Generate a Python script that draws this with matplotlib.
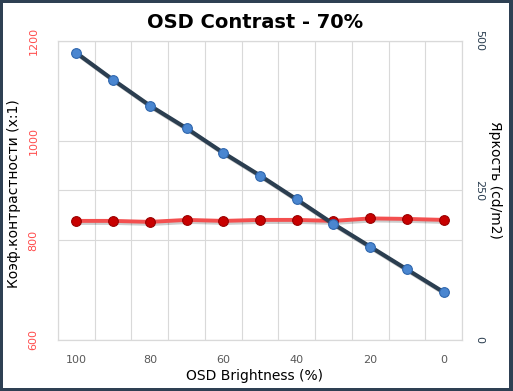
import numpy as np
import matplotlib.pyplot as plt
from matplotlib.patches import Rectangle
import matplotlib.patheffects as pe

# OSD brightness steps (x categories), contrast ratio (left axis), luminance (right axis)
brightness_pct = [100, 90, 80, 70, 60, 50, 40, 30, 20, 10, 0]
contrast = [839, 839, 837, 841, 839, 841, 841, 839, 844, 843, 841]
luminance = [480, 435, 392, 354, 313, 275, 235, 194, 156, 118, 80]

contrast_ticks = [600, 800, 1000, 1200]
luminance_ticks = [0, 250, 500]

W, H = 513, 391
fig = plt.figure(figsize=(W / 100, H / 100), dpi=100)
fig.patch.set_facecolor('#2e4053')
fig.patches.append(Rectangle((3 / W, 3 / H), 1 - 7 / W, 1 - 6 / H,
                             transform=fig.transFigure, facecolor='white',
                             edgecolor='none', zorder=-10))

ax = fig.add_axes([58 / W, 1 - 340 / H, 404 / W, 299 / H])
ax.set_facecolor('none')
ax2 = ax.twinx()

grid_c = '#d9d9d9'
x = np.arange(len(brightness_pct))

# contrast line (left axis)
shadow = [pe.SimpleLineShadow(offset=(1.5, -1.5), alpha=0.2), pe.Normal()]
ax.plot(x, contrast, color='#f34f4f', lw=2.8, zorder=3, path_effects=shadow)
ax.plot(x, contrast, ls='none', marker='o', ms=7, mfc='#c80000',
        mec='#9a0000', mew=0.8, zorder=4)
ax.set_ylim(600, 1200)
ax.set_yticks(contrast_ticks)
ax.set_xlim(-0.5, len(x) - 0.5)
ax.set_xticks(x[::2])
ax.set_xticklabels([str(v) for v in brightness_pct[::2]])
ax.set_xticks(np.arange(len(x) + 1) - 0.5, minor=True)
ax.grid(True, which='minor', axis='x', color=grid_c, lw=0.8)
ax.grid(True, which='major', axis='y', color=grid_c, lw=0.8)
ax.set_axisbelow(True)
ax.tick_params(axis='x', which='both', length=0, pad=11, labelsize=8,
               labelcolor='#595959')
ax.tick_params(axis='y', length=0, pad=14, labelsize=8, labelcolor='#ff4d4d',
               labelrotation=90)
for lab in ax.get_yticklabels():
    lab.set_va('center')

# luminance line (right axis)
ax2.plot(x, luminance, color='#2b3e50', lw=3.0, zorder=3, path_effects=shadow)
ax2.plot(x, luminance, ls='none', marker='o', ms=7, mfc='#4a86d0',
         mec='#2f66ad', mew=0.8, zorder=4)
ax2.set_ylim(0, 500)
ax2.set_yticks(luminance_ticks)
ax2.grid(True, axis='y', color=grid_c, lw=0.8, zorder=0)
ax2.set_axisbelow(True)
ax2.tick_params(axis='y', length=0, pad=9, labelsize=8, labelcolor='#2b3e50',
                labelrotation=-90)
for lab in ax2.get_yticklabels():
    lab.set_va('center')

for a in (ax, ax2):
    for s in a.spines.values():
        s.set_color(grid_c)
        s.set_linewidth(0.8)

fig.text(255 / W, 1 - 23 / H, 'OSD Contrast - 70%', ha='center', va='center',
         fontsize=14, fontweight='bold')
fig.text(255 / W, 1 - 376 / H, 'OSD Brightness (%)', ha='center', va='center',
         fontsize=10)
fig.text(14 / W, 1 - 194 / H, 'Коэф.контрастности (x:1)', ha='center',
         va='center', rotation=90, fontsize=10)
fig.text(495 / W, 1 - 180 / H, 'Яркость (cd/m2)', ha='center', va='center',
         rotation=-90, fontsize=10)

fig.savefig('out.png', dpi=100, facecolor=fig.get_facecolor())
